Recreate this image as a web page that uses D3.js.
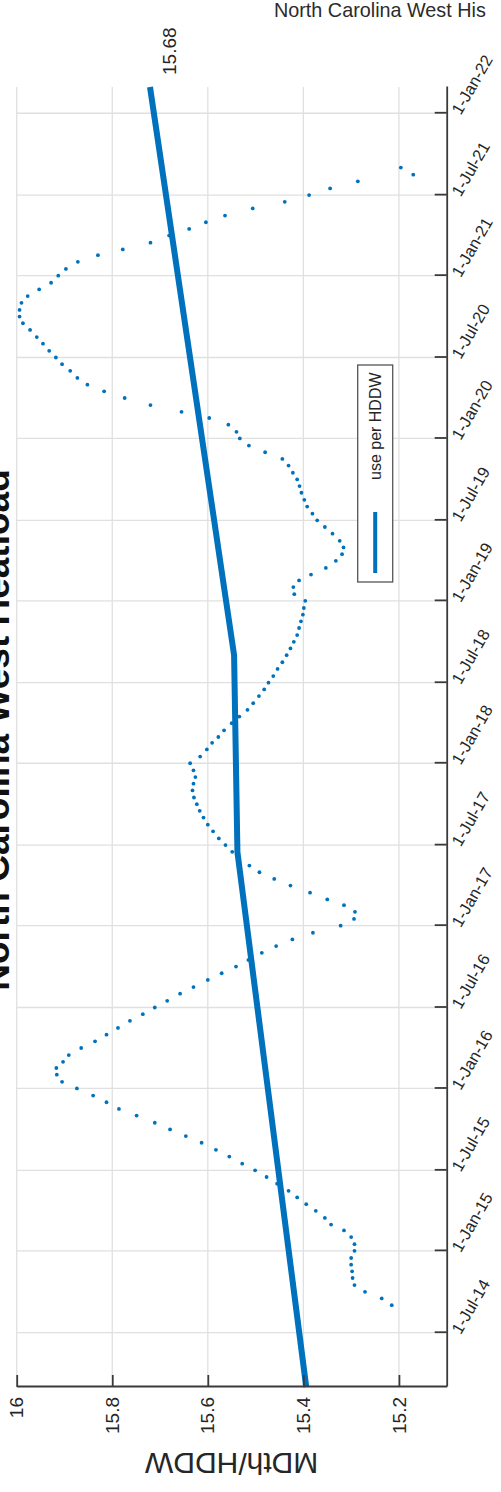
<!DOCTYPE html>
<html>
<head>
<meta charset="utf-8">
<script src="https://cdn.jsdelivr.net/npm/d3@7"></script>
<style>
  html, body { margin: 0; padding: 0; background: #fff; overflow: hidden; }
  svg { display: block; font-family: "Liberation Sans", Arial, sans-serif; }
</style>
</head>
<body>
<svg id="chart" width="501" height="1492"></svg>
<script>
// Semi-monthly observations (1st and 16th of each month), starting 2014-09-01
const firstObservation = "2014-09-01";
const usePerHddw = [
  15.215, 15.236, 15.271, 15.293, 15.297, 15.298, 15.300, 15.300, 15.293, 15.293,
  15.300, 15.315, 15.342, 15.355, 15.374, 15.394, 15.413, 15.431, 15.455, 15.477,
  15.501, 15.528, 15.555, 15.583, 15.613, 15.646, 15.679, 15.711, 15.749, 15.786,
  15.812, 15.840, 15.874, 15.905, 15.916, 15.917, 15.903, 15.891, 15.865, 15.836,
  15.812, 15.788, 15.763, 15.736, 15.711, 15.685, 15.658, 15.630, 15.600, 15.571,
  15.541, 15.515, 15.487, 15.457, 15.423, 15.380, 15.322, 15.294, 15.292, 15.315,
  15.350, 15.386, 15.427, 15.461, 15.492, 15.513, 15.535, 15.549, 15.563, 15.577,
  15.589, 15.600, 15.609, 15.617, 15.623, 15.629, 15.632, 15.630, 15.626, 15.630,
  15.637, 15.616, 15.602, 15.591, 15.578, 15.566, 15.550, 15.534, 15.517, 15.505,
  15.493, 15.482, 15.473, 15.463, 15.454, 15.444, 15.435, 15.427, 15.420, 15.413,
  15.409, 15.405, 15.401, 15.399, 15.396, 15.419, 15.421, 15.409, 15.384, 15.353,
  15.332, 15.319, 15.316, 15.324, 15.339, 15.355, 15.371, 15.381, 15.392, 15.398,
  15.404, 15.408, 15.413, 15.422, 15.431, 15.444, 15.480, 15.514, 15.533, 15.540,
  15.557, 15.597, 15.655, 15.720, 15.774, 15.817, 15.852, 15.873, 15.888, 15.905,
  15.918, 15.932, 15.945, 15.958, 15.972, 15.987, 15.994, 15.994, 15.990, 15.977,
  15.953, 15.928, 15.913, 15.897, 15.872, 15.830, 15.778, 15.720, 15.681, 15.639,
  15.604, 15.564, 15.506, 15.439, 15.388, 15.344, 15.286, 15.170, 15.196
];

// Trend of use per HDDW (piecewise)
const trendDates  = ["2014-03-01", "2017-06-15", "2018-09-01", "2022-03-01"];
const trendValues = [15.394, 15.538, 15.545, 15.721];

const dateDomain  = ["2014-03-01", "2022-03-01"];
const valueDomain = [15.1, 16];
const valueTicks  = [15.2, 15.4, 15.6, 15.8, 16];
const valueTickLabels = ["15.2", "15.4", "15.6", "15.8", "16"];

const latestLabel = "15.68";
const latestLabelValue = 15.68;

const chartTitle = "North Carolina West Heatload";
const pageHeader = "North Carolina West His";
const yLabel = "MDth/HDDW";
const legendLabel = "use per HDDW";

// ---------------------------------------------------------------
const parse = d3.utcParse("%Y-%m-%d");
const blue = "#0072BD";
const axisColor = "#3a3a3a";
const gridColor = "#e0e0e0";

// plot laid out landscape, then turned a quarter-turn counter-clockwise
const W = 1300, H = 430;
const svg = d3.select("#chart");

svg.append("text")
  .attr("x", 274).attr("y", 17)
  .attr("font-size", 19.8).attr("fill", "#2b2b2b")
  .text(pageHeader);

const g = svg.append("g").attr("transform", "translate(16.7,1387) rotate(-90)");

const x = d3.scaleUtc().domain(dateDomain.map(parse)).range([0, W]);
const y = d3.scaleLinear().domain(valueDomain).range([H, 0]);

const start = parse(firstObservation);
const observed = usePerHddw.map((v, i) => {
  const m = d3.utcMonth.offset(start, Math.floor(i / 2));
  const d = i % 2 ? d3.utcDay.offset(m, 15) : m;
  return { date: d, value: v };
});
const trend = trendDates.map((d, i) => ({ date: parse(d), value: trendValues[i] }));

const dateTicks = d3.utcMonth.every(6).range(parse("2014-07-01"), parse("2022-01-02"));

// grid
g.append("g").selectAll("line").data(dateTicks).join("line")
  .attr("x1", d => x(d)).attr("x2", d => x(d))
  .attr("y1", 0).attr("y2", H)
  .attr("stroke", gridColor).attr("stroke-width", 1.3);
g.append("g").selectAll("line").data(valueTicks).join("line")
  .attr("x1", 0).attr("x2", W)
  .attr("y1", d => y(d)).attr("y2", d => y(d))
  .attr("stroke", gridColor).attr("stroke-width", 1.3);

// observed points
g.append("g").selectAll("circle").data(observed).join("circle")
  .attr("cx", d => x(d.date)).attr("cy", d => y(d.value))
  .attr("r", 1.9).attr("fill", blue);

// trend line
g.append("path").datum(trend)
  .attr("fill", "none").attr("stroke", blue).attr("stroke-width", 6)
  .attr("stroke-linejoin", "round")
  .attr("d", d3.line().x(d => x(d.date)).y(d => y(d.value)));

// axes
const xAxis = g.append("g").attr("transform", `translate(0,${H})`)
  .call(d3.axisBottom(x).tickValues(dateTicks)
    .tickFormat(d3.utcFormat("%-d-%b-%y"))
    .tickSizeInner(-12).tickSizeOuter(0));
xAxis.selectAll("text")
  .attr("x", null).attr("y", null).attr("dy", null)
  .attr("text-anchor", "start")
  .attr("transform", "translate(-3,14) rotate(30)")
  .attr("font-size", 16.5).attr("fill", "#262626");

const yAxis = g.append("g")
  .call(d3.axisLeft(y).tickValues(valueTicks)
    .tickFormat((d, i) => valueTickLabels[i])
    .tickSizeInner(-12).tickSizeOuter(0).tickPadding(10));
yAxis.selectAll("text").attr("font-size", 19).attr("fill", "#262626");

[xAxis, yAxis].forEach(a => {
  a.select(".domain").attr("stroke", axisColor).attr("stroke-width", 1.8);
  a.selectAll(".tick line").attr("stroke", axisColor).attr("stroke-width", 1.8);
  a.attr("font-family", null);
});

// y label
g.append("text")
  .attr("transform", `translate(-66,${H / 2}) rotate(-90)`)
  .attr("text-anchor", "middle")
  .attr("font-size", 30).attr("fill", "#262626")
  .text(yLabel);

// title
g.append("text")
  .attr("x", W / 2 + 7).attr("y", -8)
  .attr("text-anchor", "middle")
  .attr("font-size", 37).attr("font-weight", "bold").attr("fill", "#111")
  .text(chartTitle);

// latest value label
g.append("text")
  .attr("x", x(trend[trend.length - 1].date) + 12)
  .attr("y", y(latestLabelValue)).attr("dy", "0.35em")
  .attr("font-size", 19).attr("fill", "#262626")
  .text(latestLabel);

// legend
const lg = g.append("g").attr("transform", "translate(805,341)");
lg.append("rect").attr("width", 217).attr("height", 35)
  .attr("fill", "#fff").attr("stroke", "#555").attr("stroke-width", 1.3);
lg.append("line").attr("x1", 9).attr("x2", 70).attr("y1", 17.5).attr("y2", 17.5)
  .attr("stroke", blue).attr("stroke-width", 4);
lg.append("text").attr("x", 102).attr("y", 17.5).attr("dy", "0.35em")
  .attr("font-size", 16).attr("fill", "#262626")
  .text(legendLabel);
</script>
</body>
</html>
